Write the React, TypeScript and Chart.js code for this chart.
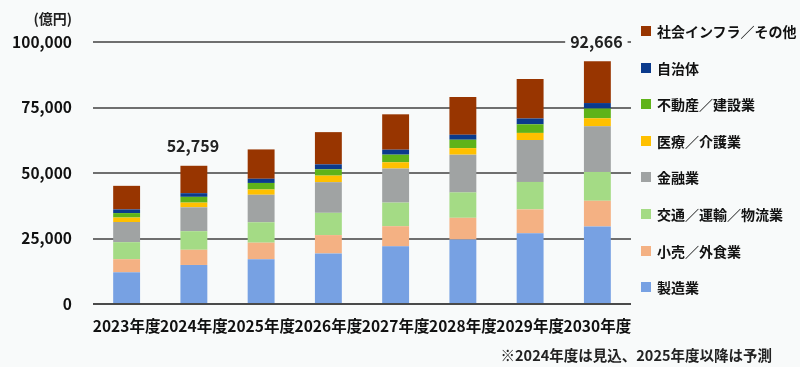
import React, { useEffect, useRef } from "react";
import { Chart, registerables } from "chart.js";

Chart.register(...registerables);

const categories = ["2023年度", "2024年度", "2025年度", "2026年度", "2027年度", "2028年度", "2029年度", "2030年度"];
const manufacturing = [12100, 14900, 17100, 19300, 22000, 24600, 27000, 29600];
const retail = [5000, 5800, 6300, 7000, 7700, 8300, 9100, 9800];
const transport = [6500, 7100, 7800, 8500, 9000, 9700, 10500, 11000];
const finance = [7700, 9100, 10500, 11700, 13000, 14400, 16000, 17400];
const medical = [1700, 1800, 2000, 2500, 2400, 2500, 2700, 3100];
const realEstate = [1700, 2200, 2500, 2400, 2900, 3200, 3300, 3700];
const localGov = [1400, 1400, 1600, 1900, 1900, 1900, 2200, 2100];
const infraOther = [9000, 10459, 11200, 12300, 13500, 14400, 15100, 15966];
const yTicks = [0, 25000, 50000, 75000, 100000];
const annotations = [
  { index: 1, text: "52,759" },
  { index: 7, text: "92,666" },
];

const seriesNames = ["製造業", "小売／外食業", "交通／運輸／物流業", "金融業", "医療／介護業", "不動産／建設業", "自治体", "社会インフラ／その他"];
const seriesData = [manufacturing, retail, transport, finance, medical, realEstate, localGov, infraOther];
const seriesColors = ["#77a1e3", "#f4b183", "#a4db85", "#a0a3a3", "#ffc000", "#5fb319", "#0b3a8c", "#983500"];

const FONT = "'Noto Sans CJK JP', 'Noto Sans', sans-serif";
const BG = "#f8fafa";

export default function App() {
  const ref = useRef<HTMLCanvasElement | null>(null);

  useEffect(() => {
    if (!ref.current) return;
    const labelPlugin = {
      id: "totals",
      afterDraw(chart: any) {
        const ctx = chart.ctx;
        const x = chart.scales.x;
        const y = chart.scales.y;
        ctx.save();
        ctx.font = `bold 16px ${FONT}`;
        ctx.fillStyle = "#222";
        ctx.textBaseline = "middle";
        ctx.textAlign = "center";
        const a0 = annotations[0];
        ctx.fillText(a0.text, x.getPixelForValue(a0.index) - 1, y.getPixelForValue(100000) + 104);
        const a1 = annotations[1];
        const cx = x.getPixelForValue(a1.index) - 1;
        const cy = y.getPixelForValue(100000);
        const w = ctx.measureText(a1.text).width;
        ctx.fillStyle = BG;
        ctx.fillRect(cx - w / 2 - 5, cy - 10, w + 10, 20);
        ctx.fillStyle = "#222";
        ctx.fillText(a1.text, cx, cy);
        ctx.font = `bold 14px ${FONT}`;
        ctx.textAlign = "right";
        ctx.fillText("(億円)", 72, 19);
        ctx.font = `bold 14.5px ${FONT}`;
        ctx.textAlign = "right";
        ctx.fillText("※2024年度は見込、2025年度以降は予測", 772, 355);
        ctx.restore();
      },
    };

    const chart = new Chart(ref.current, {
      type: "bar",
      data: {
        labels: categories,
        datasets: seriesNames.map((name, i) => ({
          label: name,
          data: seriesData[i],
          backgroundColor: seriesColors[i],
          borderWidth: 0,
          barPercentage: 0.8,
          categoryPercentage: 0.5,
        })),
      },
      options: {
        animation: false,
        responsive: false,
        maintainAspectRatio: false,
        layout: { padding: { left: 0, right: 169, top: 42, bottom: 0 } },
        plugins: {
          legend: { display: false },
          tooltip: { enabled: false },
        },
        scales: {
          x: {
            stacked: true,
            grid: { display: false, drawTicks: false },
            border: { display: false },
            ticks: { color: "#111", font: { family: FONT, size: 15.5, weight: "bold" }, padding: 13, maxRotation: 0, autoSkip: false },
            afterFit(scale: any) {
              scale.height = 63;
            },
          },
          y: {
            stacked: true,
            min: 0,
            max: 100000,
            afterBuildTicks(scale: any) {
              scale.ticks = yTicks.map((v) => ({ value: v }));
            },
            grid: {
              drawTicks: false,
              lineWidth: 2,
              color: (c: any) => (c.tick && c.tick.value === 0 ? "#4a4a4a" : "#6f6f6f"),
            },
            border: { display: false },
            ticks: {
              color: "#111",
              font: { family: FONT, size: 15.5, weight: "bold" },
              padding: 21,
              callback: (v: any) => Number(v).toLocaleString("en-US"),
            },
            afterFit(scale: any) {
              scale.width = 93;
            },
          },
        },
      },
      plugins: [labelPlugin],
    });
    return () => chart.destroy();
  }, []);

  const legendItems = seriesNames.map((n, i) => ({ n, c: seriesColors[i] })).reverse();

  return (
    <div style={{ position: "fixed", left: 0, top: 0, width: 800, height: 367, background: BG, fontFamily: FONT }}>
      <canvas ref={ref} width={800} height={367} style={{ position: "absolute", left: 0, top: 0 }} />
      {legendItems.map((it, i) => (
        <div
          key={it.n}
          style={{
            position: "absolute",
            left: 641,
            top: 31 + i * 36.6 - 10,
            height: 20,
            display: "flex",
            alignItems: "center",
            fontSize: 14,
            fontWeight: "bold",
            color: "#111",
            whiteSpace: "nowrap",
          }}
        >
          <span style={{ display: "inline-block", width: 10, height: 10, background: it.c, marginRight: 6 }} />
          <span>{it.n}</span>
        </div>
      ))}
    </div>
  );
}
